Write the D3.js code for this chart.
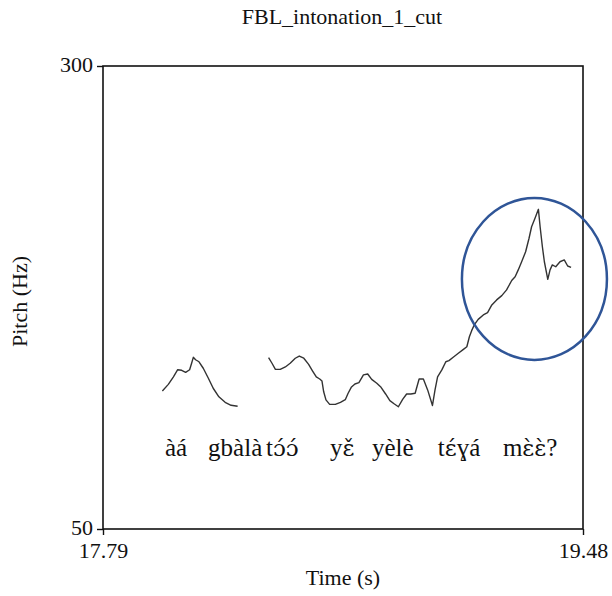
<!DOCTYPE html>
<html>
<head>
<meta charset="utf-8">
<script src="https://cdn.jsdelivr.net/npm/d3@7"></script>
<style>
  html, body { margin: 0; padding: 0; background: #fff; }
  svg { display: block; }
  text { font-family: "Liberation Serif", "Times New Roman", "DejaVu Serif", serif; fill: #111; }
</style>
</head>
<body>
<svg id="chart" width="612" height="596"></svg>
<script>
// ---- data ----
const title = "FBL_intonation_1_cut";
const xDomain = [17.79, 19.48];
const yDomain = [50, 300];
const xTickLabels = ["17.79", "19.48"];
const yTickLabels = ["50", "300"];
const xLabel = "Time (s)";
const yLabel = "Pitch (Hz)";

// pitch track, first voiced stretch
const seg1Time = [17.999, 18.020, 18.038, 18.053, 18.067, 18.081, 18.095, 18.102, 18.108, 18.116, 18.128, 18.143, 18.161, 18.178, 18.198, 18.220, 18.241, 18.264];
const seg1Hz   = [124.5, 128.1, 132.2, 136.0, 135.7, 134.6, 136.0, 139.5, 142.7, 141.4, 140.3, 136.8, 131.4, 126.0, 121.4, 118.4, 116.8, 116.3];

// pitch track, second voiced stretch
const seg2Time = [18.373, 18.385, 18.397, 18.414, 18.432, 18.449, 18.467, 18.481, 18.497, 18.514, 18.528, 18.541, 18.553, 18.561, 18.567, 18.575, 18.588, 18.608, 18.626, 18.643, 18.653, 18.664, 18.677, 18.691, 18.707, 18.722, 18.736, 18.754, 18.769, 18.785, 18.800, 18.816, 18.830, 18.845, 18.859, 18.874, 18.889, 18.903, 18.918, 18.933, 18.950, 18.959, 18.968, 18.983, 18.997, 19.008, 19.023, 19.041, 19.059, 19.071, 19.080, 19.088, 19.097, 19.111, 19.129, 19.144, 19.159, 19.176, 19.194, 19.211, 19.229, 19.241, 19.252, 19.264, 19.278, 19.290, 19.299, 19.311, 19.323, 19.329, 19.337, 19.344, 19.356, 19.364, 19.372, 19.384, 19.399, 19.414, 19.426, 19.438];
const seg2Hz   = [142.5, 139.5, 136.2, 136.2, 137.5, 139.5, 142.2, 143.4, 142.2, 138.9, 135.3, 132.1, 131.0, 129.9, 124.1, 119.7, 117.3, 117.3, 118.4, 119.8, 123.3, 126.5, 128.3, 129.0, 133.2, 133.7, 130.8, 128.7, 126.5, 122.9, 119.3, 117.5, 116.0, 120.0, 122.9, 122.9, 123.3, 131.0, 131.0, 125.1, 116.7, 125.1, 132.2, 135.9, 140.3, 140.9, 142.7, 144.9, 147.0, 148.4, 153.8, 157.1, 160.2, 163.2, 165.6, 166.8, 171.0, 173.7, 176.0, 179.1, 184.2, 186.2, 189.9, 194.3, 199.7, 207.0, 213.2, 217.8, 222.6, 213.2, 202.4, 194.3, 184.8, 189.9, 192.6, 191.6, 194.3, 195.3, 192.0, 191.3];

// transcription words and their start times
const words     = ["àá", "gbàlà", "tɔ́ɔ́", "yɛ̌", "yèlè", "tɛ́ɣá", "mɛ̀ɛ̀?"];
const wordTimes = [18.008, 18.160, 18.364, 18.589, 18.737, 18.969, 19.198];
const wordHz    = [89.5];

// highlighted region (ellipse): center time/Hz and radii in data units
const ellipseCenter = [19.309, 185];
const ellipseRadii  = [0.2553, 43.7];

// ---- layout ----
const margin = { left: 103, right: 29, top: 66, bottom: 67 };
const W = 612, H = 596;
const serif = '"Liberation Serif", "Times New Roman", "DejaVu Serif", serif';
const svg = d3.select("#chart");
const x = d3.scaleLinear().domain(xDomain).range([margin.left, W - margin.right]);
const y = d3.scaleLinear().domain(yDomain).range([H - margin.bottom, margin.top]);

// title
svg.append("text")
  .attr("x", 342).attr("y", 24)
  .attr("text-anchor", "middle")
  .style("font-size", "22px")
  .text(title);

// frame
svg.append("rect")
  .attr("x", x.range()[0]).attr("y", y.range()[1])
  .attr("width", x.range()[1] - x.range()[0])
  .attr("height", y.range()[0] - y.range()[1])
  .attr("fill", "none").attr("stroke", "#111").attr("stroke-width", 1.6);

// axes
const yAxis = d3.axisLeft(y).tickValues(yDomain)
  .tickFormat((d, i) => yTickLabels[i]).tickSize(6).tickPadding(4).tickSizeOuter(0);
const gy = svg.append("g").attr("transform", `translate(${x.range()[0]},0)`).call(yAxis);
gy.attr("font-family", null).attr("font-size", null);
gy.select(".domain").remove();
gy.selectAll("line").attr("stroke", "#111").attr("stroke-width", 1.4);
gy.selectAll("text").style("font-size", "22px").attr("fill", "#111").style("font-family", serif)
  .attr("dy", "0.24em");

const xAxis = d3.axisBottom(x).tickValues(xDomain)
  .tickFormat((d, i) => xTickLabels[i]).tickSize(6).tickPadding(7).tickSizeOuter(0);
const gx = svg.append("g").attr("transform", `translate(0,${y.range()[0]})`).call(xAxis);
gx.attr("font-family", null).attr("font-size", null);
gx.select(".domain").remove();
gx.selectAll("line").attr("stroke", "#111").attr("stroke-width", 1.4);
gx.selectAll("text").style("font-size", "22px").attr("fill", "#111").style("font-family", serif);

// axis titles
svg.append("text")
  .attr("x", 343).attr("y", 585)
  .attr("text-anchor", "middle")
  .style("font-size", "22px")
  .text(xLabel);
svg.append("text")
  .attr("transform", `translate(27,${(y.range()[0] + y.range()[1]) / 2 + 4}) rotate(-90)`)
  .attr("text-anchor", "middle")
  .style("font-size", "22px")
  .text(yLabel);

// pitch curves
const line = d3.line().x(d => x(d[0])).y(d => y(d[1]));
const seg1 = seg1Time.map((t, i) => [t, seg1Hz[i]]);
const seg2 = seg2Time.map((t, i) => [t, seg2Hz[i]]);
[seg1, seg2].forEach(seg => {
  svg.append("path").datum(seg)
    .attr("d", line)
    .attr("fill", "none")
    .attr("stroke", "#333")
    .attr("stroke-width", 1.4)
    .attr("stroke-linejoin", "round");
});

// transcription: clusters with combining marks use a font with mark positioning
const wordSel = svg.selectAll("text.word").data(words).enter().append("text")
  .attr("class", "word")
  .attr("x", (d, i) => x(wordTimes[i]))
  .attr("y", y(wordHz[0]))
  .style("font-size", "25px");
wordSel.each(function(d) {
  const clusters = d.match(/.\p{M}*/gu);
  const t = d3.select(this);
  clusters.forEach(c => {
    const combining = c.length > 1;
    t.append("tspan")
      .style("font-family", combining ? '"DejaVu Serif", serif' : serif)
      .style("font-size", combining ? "23px" : "25px")
      .text(c);
  });
});

// ellipse annotation
svg.append("ellipse")
  .attr("cx", x(ellipseCenter[0])).attr("cy", y(ellipseCenter[1]))
  .attr("rx", x(xDomain[0] + ellipseRadii[0]) - x(xDomain[0]))
  .attr("ry", y(yDomain[0]) - y(yDomain[0] + ellipseRadii[1]))
  .attr("fill", "none")
  .attr("stroke", "#2F5597")
  .attr("stroke-width", 2.5);
</script>
</body>
</html>
